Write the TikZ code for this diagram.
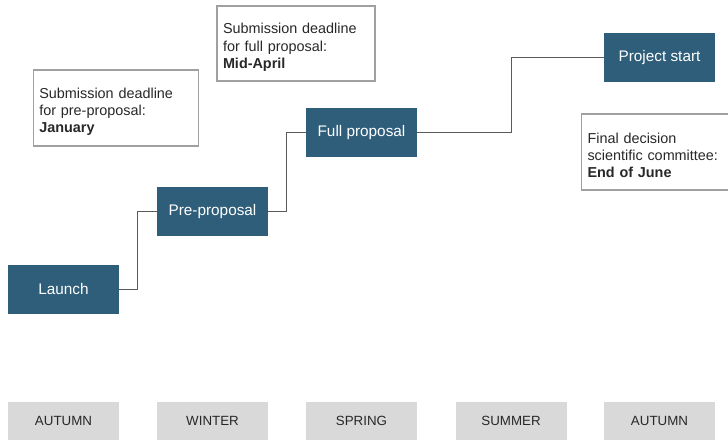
\documentclass[tikz,border=0pt]{standalone}
\usepackage{fontspec}
\setmainfont{Liberation Sans}
\usetikzlibrary{positioning}

\definecolor{stagefill}{RGB}{47,94,122}
\definecolor{seasonfill}{RGB}{217,217,217}
\definecolor{noteline}{RGB}{160,160,160}
\definecolor{linkline}{RGB}{90,90,90}
\definecolor{textgray}{RGB}{40,40,40}

\begin{document}
\begin{tikzpicture}[x=0.75pt,y=-0.75pt,
    stage/.style={fill=stagefill,text=white,minimum width=83.25pt,minimum height=36.75pt,
      inner sep=0pt,font=\fontsize{11.5}{13}\selectfont},
    season/.style={fill=seasonfill,text=textgray,minimum width=83.25pt,minimum height=28pt,
      inner sep=0pt,font=\fontsize{10}{11}\selectfont},
    note/.style={draw=noteline,line width=0.8pt,fill=white,text=textgray,align=left,
      inner xsep=4.5pt,font=\fontsize{10.8}{12.8}\selectfont,
      execute at begin node={\rule{0pt}{13.5pt}}},
    link/.style={draw=linkline,line width=1.1pt}]
    \useasboundingbox (0,0) rectangle (728,439);
    % milestones
    \node [stage] (launch) at (63.5,289.5) {Launch};
    \node [stage] (pre) at (212.5,211.5) {Pre-proposal};
    \node [stage] (full) at (361.5,132.5) {Full proposal};
    \node [stage] (start) at (659.5,57.5) {Project start};
    \draw [link] (launch.east) -- ++(18,0) |- (pre.west);
    \draw [link] (pre.east) -- ++(18,0) |- (full.west);
    \draw [link] (full.east) -- ++(94,0) |- (start.west);
    % deadlines
    \node [note,text width=115pt,minimum height=57pt] (jan) at (116,108)
      {Submission deadline\\for pre-proposal:\\\textbf{January}};
    \node [note,text width=109.5pt,minimum height=56.25pt] (april) at (296,43.5)
      {Submission deadline\\for full proposal:\\\textbf{Mid-April}};
    \node [note,anchor=west,text width=110pt,minimum height=57pt] (june) at (581,152)
      {Final decision\\scientific committee:\\\textbf{End of June}};
    % seasons
    \foreach \name/\pos/\txt in {autA/63.5/AUTUMN,win/212.5/WINTER,spr/361.5/SPRING,
      sum/511/SUMMER,autB/659.5/AUTUMN}
      \node [season,anchor=north] (\name) at (\pos,402) {\txt};
  \end{tikzpicture}
\end{document}
